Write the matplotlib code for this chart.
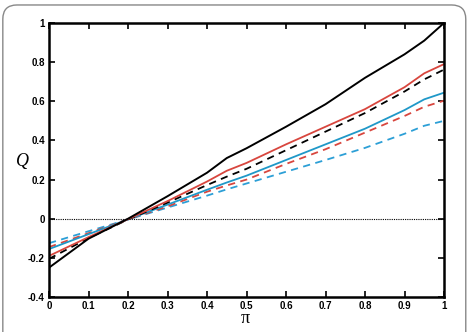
import matplotlib
matplotlib.use("Agg")
import matplotlib.pyplot as plt
from matplotlib.patches import FancyBboxPatch

x = [0, 0.1, 0.2, 0.3, 0.4, 0.45, 0.5, 0.6, 0.7, 0.8, 0.9, 0.95, 1.0]
black_solid = [-0.25, -0.102, 0.0, 0.115, 0.235, 0.31, 0.36, 0.47, 0.585, 0.72, 0.84, 0.91, 1.0]
red_solid = [-0.19, -0.094, -0.002, 0.09, 0.19, 0.245, 0.285, 0.38, 0.47, 0.56, 0.672, 0.743, 0.79]
black_dashed = [-0.205, -0.099, -0.004, 0.082, 0.172, 0.215, 0.255, 0.35, 0.445, 0.54, 0.65, 0.712, 0.762]
blue_solid = [-0.155, -0.079, -0.003, 0.072, 0.148, 0.185, 0.22, 0.30, 0.38, 0.46, 0.555, 0.61, 0.644]
red_dashed = [-0.145, -0.074, -0.003, 0.063, 0.138, 0.17, 0.20, 0.28, 0.355, 0.44, 0.525, 0.572, 0.603]
blue_dashed = [-0.125, -0.064, -0.004, 0.057, 0.118, 0.15, 0.18, 0.24, 0.30, 0.362, 0.434, 0.475, 0.50]

xticks = [0, 0.1, 0.2, 0.3, 0.4, 0.5, 0.6, 0.7, 0.8, 0.9, 1]
xticklabels = ["0", "0.1", "0.2", "0.3", "0.4", "0.5", "0.6", "0.7", "0.8", "0.9", "1"]
yticks = [-0.4, -0.2, 0, 0.2, 0.4, 0.6, 0.8, 1]
yticklabels = ["-0.4", "-0.2", "0", "0.2", "0.4", "0.6", "0.8", "1"]

RED = "#d8463e"
BLUE = "#1f98c8"
BLUE2 = "#2c9fd6"

fig = plt.figure(figsize=(4.7, 3.32), dpi=100)
border = FancyBboxPatch((0.006, -0.05), 0.985, 1.035, boxstyle="round,pad=0,rounding_size=0.03",
                        transform=fig.transFigure, facecolor="white", edgecolor="#888888",
                        linewidth=1.0, mutation_aspect=470/332, zorder=-10)
fig.patches.append(border)

ax = fig.add_axes([0.1043, 0.1054, 0.8404, 0.8253])
ax.set_zorder(5)
ax.set_facecolor("none")
ax.axhline(0, color="black", linestyle=(0, (1, 1)), linewidth=0.8)
dash = (0, (4, 3))
ax.plot(x, blue_dashed, color=BLUE2, linestyle=dash, linewidth=1.3)
ax.plot(x, red_dashed, color=RED, linestyle=dash, linewidth=1.3)
ax.plot(x, blue_solid, color=BLUE, linewidth=1.3)
ax.plot(x, black_dashed, color="black", linestyle=dash, linewidth=1.3)
ax.plot(x, red_solid, color=RED, linewidth=1.3)
ax.plot(x, black_solid, color="black", linewidth=1.4)

ax.set_xlim(0, 1)
ax.set_ylim(-0.4, 1)
ax.set_xticks(xticks)
ax.set_xticklabels(xticklabels)
ax.set_yticks(yticks)
ax.set_yticklabels(yticklabels)
ax.tick_params(direction="in", top=True, right=True, length=4, width=1.2, labelsize=7, pad=3)
for lab in ax.get_xticklabels() + ax.get_yticklabels():
    lab.set_fontweight("bold")
    lab.set_fontfamily("Liberation Sans")
for sp in ax.spines.values():
    sp.set_linewidth(1.8)

fig.text(0.047, 0.515, "Q", fontsize=13, fontstyle="italic", family="Liberation Serif", ha="center", va="center")
fig.text(0.522, 0.04, "π", fontsize=13, family="Liberation Serif", ha="center", va="center")

fig.savefig("out.png", dpi=100)
